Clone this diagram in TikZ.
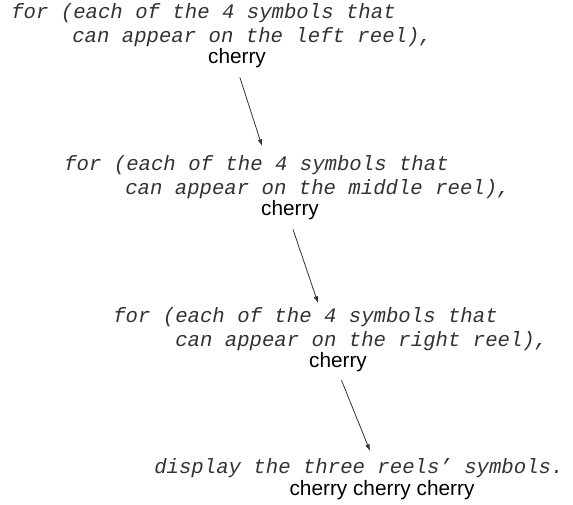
\documentclass[tikz,border=0pt]{standalone}
\usepackage{fontspec}
\setmainfont{Liberation Sans}
\newfontfamily\codefont{Liberation Mono}
\usetikzlibrary{arrows.meta}
\begin{document}
\begin{tikzpicture}[x=0.75pt,y=-0.75pt,
        code/.style={anchor=base west,inner sep=0pt,text=black!80,font=\codefont\itshape\fontsize{15.5}{18}\selectfont},
        sym/.style={anchor=base,inner sep=0pt,font=\fontsize{15.6}{18}\selectfont},
        arr/.style={-{Latex[length=5pt,width=3.5pt]},line width=0.6pt,black!80,shorten <=7pt}]
        \useasboundingbox (0,0) rectangle (573,505);
        \node[code] (leftA) at (11,19) {for (each of the 4 symbols that};
        \node[code] (leftB) at (72,43) {can appear on the left reel),};
        \node[sym] (leftSym) at (237,64) {cherry};
        \node[code] (midA) at (64,171) {for (each of the 4 symbols that};
        \node[code] (midB) at (125,195) {can appear on the middle reel),};
        \node[sym] (midSym) at (290,216) {cherry};
        \node[code] (rightA) at (113,322) {for (each of the 4 symbols that};
        \node[code] (rightB) at (175,346) {can appear on the right reel),};
        \node[sym] (rightSym) at (338,367) {cherry};
        \node[code] (showA) at (154,473) {display the three reels’ symbols.};
        \node[sym] (showSym) at (382,495) {cherry cherry cherry};
        \coordinate (tipA) at (262,146);
        \coordinate (tipB) at (318,303);
        \coordinate (tipC) at (370,451);
        \draw[arr] (leftSym.south) -- (tipA);
        \draw[arr] (midSym.south) -- (tipB);
        \draw[arr] (rightSym.south) -- (tipC);
    \end{tikzpicture}
\end{document}
